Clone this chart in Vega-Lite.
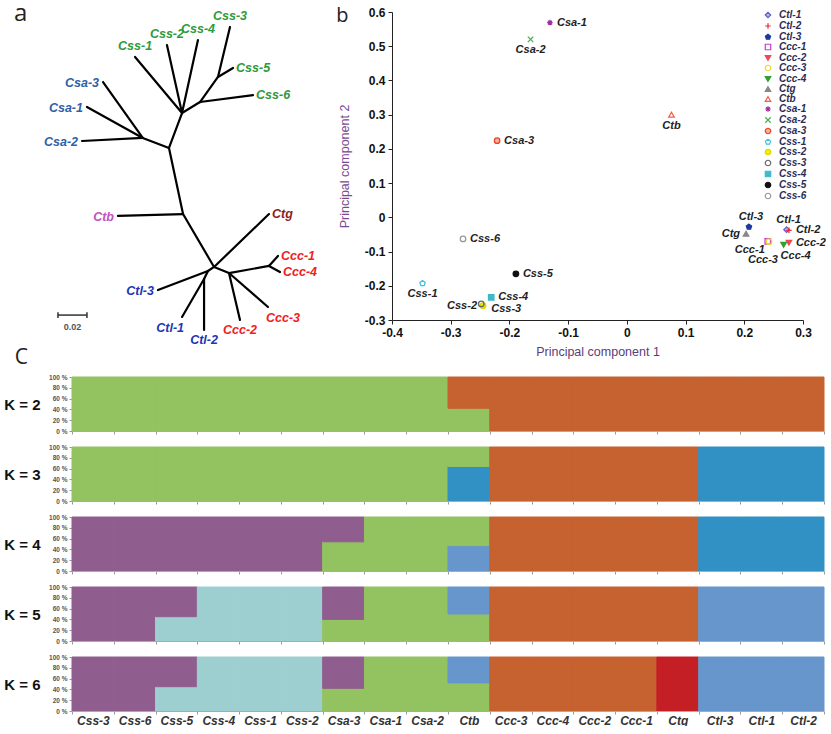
{
  "$schema": "https://vega.github.io/schema/vega-lite/v6.json",
  "padding": {"left": 3, "top": 1, "right": 0, "bottom": 0},
  "background": "white",
  "config": {"view": {"stroke": null}, "font": "Liberation Sans", "axis": {"grid": false}},
  "datasets": {
    "edges": [
      {"x": 0.0711, "y": 0.0566, "x2": 0.0985, "y2": 0.0952},
      {"x": 0.0600, "y": 0.0738, "x2": 0.0985, "y2": 0.0952},
      {"x": 0.0566, "y": 0.0973, "x2": 0.0985, "y2": 0.0952},
      {"x": 0.0985, "y": 0.0952, "x2": 0.1166, "y2": 0.1021},
      {"x": 0.1166, "y": 0.1021, "x2": 0.1256, "y2": 0.0780},
      {"x": 0.0932, "y": 0.0393, "x2": 0.1256, "y2": 0.0780},
      {"x": 0.1152, "y": 0.0311, "x2": 0.1256, "y2": 0.0780},
      {"x": 0.1366, "y": 0.0276, "x2": 0.1256, "y2": 0.0780},
      {"x": 0.1256, "y": 0.0780, "x2": 0.1380, "y2": 0.0704},
      {"x": 0.1746, "y": 0.0656, "x2": 0.1380, "y2": 0.0704},
      {"x": 0.1380, "y": 0.0704, "x2": 0.1504, "y2": 0.0531},
      {"x": 0.1587, "y": 0.0186, "x2": 0.1504, "y2": 0.0531},
      {"x": 0.1608, "y": 0.0469, "x2": 0.1504, "y2": 0.0531},
      {"x": 0.1166, "y": 0.1021, "x2": 0.1263, "y2": 0.1477},
      {"x": 0.0814, "y": 0.1490, "x2": 0.1263, "y2": 0.1477},
      {"x": 0.1263, "y": 0.1477, "x2": 0.1477, "y2": 0.1842},
      {"x": 0.1856, "y": 0.1477, "x2": 0.1477, "y2": 0.1842},
      {"x": 0.1477, "y": 0.1842, "x2": 0.1435, "y2": 0.1870},
      {"x": 0.1090, "y": 0.2001, "x2": 0.1435, "y2": 0.1870},
      {"x": 0.1435, "y": 0.1870, "x2": 0.1408, "y2": 0.1925},
      {"x": 0.1256, "y": 0.2187, "x2": 0.1408, "y2": 0.1925},
      {"x": 0.1408, "y": 0.2277, "x2": 0.1408, "y2": 0.1925},
      {"x": 0.1477, "y": 0.1842, "x2": 0.1580, "y2": 0.1884},
      {"x": 0.1656, "y": 0.2208, "x2": 0.1580, "y2": 0.1884},
      {"x": 0.1849, "y": 0.2118, "x2": 0.1580, "y2": 0.1884},
      {"x": 0.1580, "y": 0.1884, "x2": 0.1856, "y2": 0.1835},
      {"x": 0.1918, "y": 0.1766, "x2": 0.1856, "y2": 0.1835},
      {"x": 0.1932, "y": 0.1877, "x2": 0.1856, "y2": 0.1835}
    ],
    "leaves": [
      {"name": "Csa-3", "clade": "Csa", "x": 0.0711, "y": 0.0566},
      {"name": "Csa-1", "clade": "Csa", "x": 0.0600, "y": 0.0738},
      {"name": "Csa-2", "clade": "Csa", "x": 0.0566, "y": 0.0973},
      {"name": "Css-1", "clade": "Css", "x": 0.0932, "y": 0.0393},
      {"name": "Css-2", "clade": "Css", "x": 0.1152, "y": 0.0311},
      {"name": "Css-4", "clade": "Css", "x": 0.1366, "y": 0.0276},
      {"name": "Css-3", "clade": "Css", "x": 0.1587, "y": 0.0186},
      {"name": "Css-5", "clade": "Css", "x": 0.1608, "y": 0.0469},
      {"name": "Css-6", "clade": "Css", "x": 0.1746, "y": 0.0656},
      {"name": "Ctb", "clade": "Ctb", "x": 0.0814, "y": 0.1490},
      {"name": "Ctg", "clade": "Ctg", "x": 0.1856, "y": 0.1477},
      {"name": "Ctl-3", "clade": "Ctl", "x": 0.1090, "y": 0.2001},
      {"name": "Ctl-1", "clade": "Ctl", "x": 0.1256, "y": 0.2187},
      {"name": "Ctl-2", "clade": "Ctl", "x": 0.1408, "y": 0.2277},
      {"name": "Ccc-2", "clade": "Ccc", "x": 0.1656, "y": 0.2208},
      {"name": "Ccc-3", "clade": "Ccc", "x": 0.1849, "y": 0.2118},
      {"name": "Ccc-1", "clade": "Ccc", "x": 0.1918, "y": 0.1766},
      {"name": "Ccc-4", "clade": "Ccc", "x": 0.1932, "y": 0.1877}
    ],
    "scalebar": [
      {"x": 0.040, "x2": 0.060, "y": 0.2174, "y2": 0.2174, "label": "0.02"},
      {"x": 0.040, "x2": 0.040, "y": 0.2154, "y2": 0.2194},
      {"x": 0.060, "x2": 0.060, "y": 0.2154, "y2": 0.2194}
    ],
    "pca": [
      {"sample": "Ctl-1", "pc1": 0.272, "pc2": -0.036},
      {"sample": "Ctl-2", "pc1": 0.276, "pc2": -0.038},
      {"sample": "Ctl-3", "pc1": 0.208, "pc2": -0.028},
      {"sample": "Ccc-1", "pc1": 0.240, "pc2": -0.070},
      {"sample": "Ccc-2", "pc1": 0.276, "pc2": -0.074},
      {"sample": "Ccc-3", "pc1": 0.242, "pc2": -0.071},
      {"sample": "Ccc-4", "pc1": 0.267, "pc2": -0.080},
      {"sample": "Ctg", "pc1": 0.203, "pc2": -0.048},
      {"sample": "Ctb", "pc1": 0.076, "pc2": 0.300},
      {"sample": "Csa-1", "pc1": -0.131, "pc2": 0.569},
      {"sample": "Csa-2", "pc1": -0.164, "pc2": 0.520},
      {"sample": "Csa-3", "pc1": -0.221, "pc2": 0.224},
      {"sample": "Css-1", "pc1": -0.348, "pc2": -0.193},
      {"sample": "Css-2", "pc1": -0.245, "pc2": -0.258},
      {"sample": "Css-3", "pc1": -0.248, "pc2": -0.253},
      {"sample": "Css-4", "pc1": -0.231, "pc2": -0.234},
      {"sample": "Css-5", "pc1": -0.189, "pc2": -0.165},
      {"sample": "Css-6", "pc1": -0.279, "pc2": -0.063}
    ],
    "admix": [
      {"K": 2, "sample": "Css-3", "cluster": "A", "q0": 0, "q1": 1},
      {"K": 2, "sample": "Css-6", "cluster": "A", "q0": 0, "q1": 1},
      {"K": 2, "sample": "Css-5", "cluster": "A", "q0": 0, "q1": 1},
      {"K": 2, "sample": "Css-4", "cluster": "A", "q0": 0, "q1": 1},
      {"K": 2, "sample": "Css-1", "cluster": "A", "q0": 0, "q1": 1},
      {"K": 2, "sample": "Css-2", "cluster": "A", "q0": 0, "q1": 1},
      {"K": 2, "sample": "Csa-3", "cluster": "A", "q0": 0, "q1": 1},
      {"K": 2, "sample": "Csa-1", "cluster": "A", "q0": 0, "q1": 1},
      {"K": 2, "sample": "Csa-2", "cluster": "A", "q0": 0, "q1": 1},
      {"K": 2, "sample": "Ctb", "cluster": "A", "q0": 0, "q1": 0.42},
      {"K": 2, "sample": "Ctb", "cluster": "B", "q0": 0.42, "q1": 1},
      {"K": 2, "sample": "Ccc-3", "cluster": "B", "q0": 0, "q1": 1},
      {"K": 2, "sample": "Ccc-4", "cluster": "B", "q0": 0, "q1": 1},
      {"K": 2, "sample": "Ccc-2", "cluster": "B", "q0": 0, "q1": 1},
      {"K": 2, "sample": "Ccc-1", "cluster": "B", "q0": 0, "q1": 1},
      {"K": 2, "sample": "Ctg", "cluster": "B", "q0": 0, "q1": 1},
      {"K": 2, "sample": "Ctl-3", "cluster": "B", "q0": 0, "q1": 1},
      {"K": 2, "sample": "Ctl-1", "cluster": "B", "q0": 0, "q1": 1},
      {"K": 2, "sample": "Ctl-2", "cluster": "B", "q0": 0, "q1": 1},
      {"K": 3, "sample": "Css-3", "cluster": "A", "q0": 0, "q1": 1},
      {"K": 3, "sample": "Css-6", "cluster": "A", "q0": 0, "q1": 1},
      {"K": 3, "sample": "Css-5", "cluster": "A", "q0": 0, "q1": 1},
      {"K": 3, "sample": "Css-4", "cluster": "A", "q0": 0, "q1": 1},
      {"K": 3, "sample": "Css-1", "cluster": "A", "q0": 0, "q1": 1},
      {"K": 3, "sample": "Css-2", "cluster": "A", "q0": 0, "q1": 1},
      {"K": 3, "sample": "Csa-3", "cluster": "A", "q0": 0, "q1": 1},
      {"K": 3, "sample": "Csa-1", "cluster": "A", "q0": 0, "q1": 1},
      {"K": 3, "sample": "Csa-2", "cluster": "A", "q0": 0, "q1": 1},
      {"K": 3, "sample": "Ctb", "cluster": "C", "q0": 0, "q1": 0.64},
      {"K": 3, "sample": "Ctb", "cluster": "A", "q0": 0.64, "q1": 1},
      {"K": 3, "sample": "Ccc-3", "cluster": "B", "q0": 0, "q1": 1},
      {"K": 3, "sample": "Ccc-4", "cluster": "B", "q0": 0, "q1": 1},
      {"K": 3, "sample": "Ccc-2", "cluster": "B", "q0": 0, "q1": 1},
      {"K": 3, "sample": "Ccc-1", "cluster": "B", "q0": 0, "q1": 1},
      {"K": 3, "sample": "Ctg", "cluster": "B", "q0": 0, "q1": 1},
      {"K": 3, "sample": "Ctl-3", "cluster": "C", "q0": 0, "q1": 1},
      {"K": 3, "sample": "Ctl-1", "cluster": "C", "q0": 0, "q1": 1},
      {"K": 3, "sample": "Ctl-2", "cluster": "C", "q0": 0, "q1": 1},
      {"K": 4, "sample": "Css-3", "cluster": "E", "q0": 0, "q1": 1},
      {"K": 4, "sample": "Css-6", "cluster": "E", "q0": 0, "q1": 1},
      {"K": 4, "sample": "Css-5", "cluster": "E", "q0": 0, "q1": 1},
      {"K": 4, "sample": "Css-4", "cluster": "E", "q0": 0, "q1": 1},
      {"K": 4, "sample": "Css-1", "cluster": "E", "q0": 0, "q1": 1},
      {"K": 4, "sample": "Css-2", "cluster": "E", "q0": 0, "q1": 1},
      {"K": 4, "sample": "Csa-3", "cluster": "A", "q0": 0, "q1": 0.54},
      {"K": 4, "sample": "Csa-3", "cluster": "E", "q0": 0.54, "q1": 1},
      {"K": 4, "sample": "Csa-1", "cluster": "A", "q0": 0, "q1": 1},
      {"K": 4, "sample": "Csa-2", "cluster": "A", "q0": 0, "q1": 1},
      {"K": 4, "sample": "Ctb", "cluster": "D", "q0": 0, "q1": 0.47},
      {"K": 4, "sample": "Ctb", "cluster": "A", "q0": 0.47, "q1": 1},
      {"K": 4, "sample": "Ccc-3", "cluster": "B", "q0": 0, "q1": 1},
      {"K": 4, "sample": "Ccc-4", "cluster": "B", "q0": 0, "q1": 1},
      {"K": 4, "sample": "Ccc-2", "cluster": "B", "q0": 0, "q1": 1},
      {"K": 4, "sample": "Ccc-1", "cluster": "B", "q0": 0, "q1": 1},
      {"K": 4, "sample": "Ctg", "cluster": "B", "q0": 0, "q1": 1},
      {"K": 4, "sample": "Ctl-3", "cluster": "C", "q0": 0, "q1": 1},
      {"K": 4, "sample": "Ctl-1", "cluster": "C", "q0": 0, "q1": 1},
      {"K": 4, "sample": "Ctl-2", "cluster": "C", "q0": 0, "q1": 1},
      {"K": 5, "sample": "Css-3", "cluster": "E", "q0": 0, "q1": 1},
      {"K": 5, "sample": "Css-6", "cluster": "E", "q0": 0, "q1": 1},
      {"K": 5, "sample": "Css-5", "cluster": "F", "q0": 0, "q1": 0.45},
      {"K": 5, "sample": "Css-5", "cluster": "E", "q0": 0.45, "q1": 1},
      {"K": 5, "sample": "Css-4", "cluster": "F", "q0": 0, "q1": 1},
      {"K": 5, "sample": "Css-1", "cluster": "F", "q0": 0, "q1": 1},
      {"K": 5, "sample": "Css-2", "cluster": "F", "q0": 0, "q1": 1},
      {"K": 5, "sample": "Csa-3", "cluster": "A", "q0": 0, "q1": 0.4},
      {"K": 5, "sample": "Csa-3", "cluster": "E", "q0": 0.4, "q1": 1},
      {"K": 5, "sample": "Csa-1", "cluster": "A", "q0": 0, "q1": 1},
      {"K": 5, "sample": "Csa-2", "cluster": "A", "q0": 0, "q1": 1},
      {"K": 5, "sample": "Ctb", "cluster": "A", "q0": 0, "q1": 0.5},
      {"K": 5, "sample": "Ctb", "cluster": "D", "q0": 0.5, "q1": 1},
      {"K": 5, "sample": "Ccc-3", "cluster": "B", "q0": 0, "q1": 1},
      {"K": 5, "sample": "Ccc-4", "cluster": "B", "q0": 0, "q1": 1},
      {"K": 5, "sample": "Ccc-2", "cluster": "B", "q0": 0, "q1": 1},
      {"K": 5, "sample": "Ccc-1", "cluster": "B", "q0": 0, "q1": 1},
      {"K": 5, "sample": "Ctg", "cluster": "B", "q0": 0, "q1": 1},
      {"K": 5, "sample": "Ctl-3", "cluster": "D", "q0": 0, "q1": 1},
      {"K": 5, "sample": "Ctl-1", "cluster": "D", "q0": 0, "q1": 1},
      {"K": 5, "sample": "Ctl-2", "cluster": "D", "q0": 0, "q1": 1},
      {"K": 6, "sample": "Css-3", "cluster": "E", "q0": 0, "q1": 1},
      {"K": 6, "sample": "Css-6", "cluster": "E", "q0": 0, "q1": 1},
      {"K": 6, "sample": "Css-5", "cluster": "F", "q0": 0, "q1": 0.45},
      {"K": 6, "sample": "Css-5", "cluster": "E", "q0": 0.45, "q1": 1},
      {"K": 6, "sample": "Css-4", "cluster": "F", "q0": 0, "q1": 1},
      {"K": 6, "sample": "Css-1", "cluster": "F", "q0": 0, "q1": 1},
      {"K": 6, "sample": "Css-2", "cluster": "F", "q0": 0, "q1": 1},
      {"K": 6, "sample": "Csa-3", "cluster": "A", "q0": 0, "q1": 0.42},
      {"K": 6, "sample": "Csa-3", "cluster": "E", "q0": 0.42, "q1": 1},
      {"K": 6, "sample": "Csa-1", "cluster": "A", "q0": 0, "q1": 1},
      {"K": 6, "sample": "Csa-2", "cluster": "A", "q0": 0, "q1": 1},
      {"K": 6, "sample": "Ctb", "cluster": "A", "q0": 0, "q1": 0.52},
      {"K": 6, "sample": "Ctb", "cluster": "D", "q0": 0.52, "q1": 1},
      {"K": 6, "sample": "Ccc-3", "cluster": "B", "q0": 0, "q1": 1},
      {"K": 6, "sample": "Ccc-4", "cluster": "B", "q0": 0, "q1": 1},
      {"K": 6, "sample": "Ccc-2", "cluster": "B", "q0": 0, "q1": 1},
      {"K": 6, "sample": "Ccc-1", "cluster": "B", "q0": 0, "q1": 1},
      {"K": 6, "sample": "Ctg", "cluster": "G", "q0": 0, "q1": 1},
      {"K": 6, "sample": "Ctl-3", "cluster": "D", "q0": 0, "q1": 1},
      {"K": 6, "sample": "Ctl-1", "cluster": "D", "q0": 0, "q1": 1},
      {"K": 6, "sample": "Ctl-2", "cluster": "D", "q0": 0, "q1": 1}
    ]
  },
  "columns": 1,
  "align": "none",
  "spacing": -11,
  "resolve": {"scale": {"color": "independent", "stroke": "independent", "fill": "independent", "shape": "independent"}, "legend": {"color": "independent", "stroke": "independent", "fill": "independent", "shape": "independent"}},
  "concat": [
    {
      "spacing": 14,
      "resolve": {"scale": {"color": "independent", "stroke": "independent", "fill": "independent", "shape": "independent"}, "legend": {"color": "independent", "stroke": "independent", "fill": "independent", "shape": "independent"}},
      "hconcat": [
        {
          "width": 250,
          "height": 330,
          "title": {"text": "a", "anchor": "start", "frame": "group", "fontSize": 24, "font": "Open Sans", "fontWeight": "normal", "baseline": "alphabetic", "offset": -35, "dx": -58, "color": "#222"},
          "layer": [
            {
              "data": {"name": "edges"},
              "mark": {"type": "rule", "strokeWidth": 2.2, "color": "#000", "strokeCap": "round"},
              "encoding": {
                "x": {"field": "x", "type": "quantitative", "scale": {"domain": [0.04968, 0.22218], "nice": false, "zero": false}, "axis": null},
                "y": {"field": "y", "type": "quantitative", "scale": {"domain": [0.00828, 0.23598], "nice": false, "zero": false, "reverse": true}, "axis": null},
                "x2": {"field": "x2"},
                "y2": {"field": "y2"}
              }
            },
            {
              "data": {"name": "scalebar"},
              "mark": {"type": "rule", "strokeWidth": 1.5, "color": "#333"},
              "encoding": {
                "x": {"field": "x", "type": "quantitative", "axis": null},
                "y": {"field": "y", "type": "quantitative", "axis": null},
                "x2": {"field": "x2"},
                "y2": {"field": "y2"}
              }
            },
            {
              "data": {"name": "scalebar"},
              "transform": [{"filter": "isValid(datum.label)"}],
              "mark": {"type": "text", "dx": 14.5, "dy": 12, "align": "center", "fontSize": 9, "fontWeight": "bold", "color": "#555"},
              "encoding": {
                "x": {"field": "x", "type": "quantitative", "axis": null},
                "y": {"field": "y", "type": "quantitative", "axis": null},
                "text": {"field": "label"}
              }
            },
            {
              "data": {"name": "leaves"},
              "transform": [{"filter": {"field": "name", "oneOf": ["Csa-3", "Csa-1", "Csa-2", "Ctb", "Ctl-3"]}}],
              "mark": {"type": "text", "align": "right", "baseline": "middle", "dx": -4, "dy": 1, "fontSize": 12.5, "fontStyle": "italic", "fontWeight": "bold"},
              "encoding": {
                "x": {"field": "x", "type": "quantitative", "axis": null},
                "y": {"field": "y", "type": "quantitative", "axis": null},
                "text": {"field": "name"},
                "color": {"field": "clade", "type": "nominal", "legend": null, "scale": {"domain": ["Css", "Csa", "Ctl", "Ccc", "Ctb", "Ctg"], "range": ["#2f9a3a", "#2f5fa8", "#1f35b5", "#ee1d23", "#c251c1", "#8e1c1c"]}}
              }
            },
            {
              "data": {"name": "leaves"},
              "transform": [{"filter": {"field": "name", "oneOf": ["Css-1", "Css-2", "Css-4", "Css-3"]}}],
              "mark": {"type": "text", "align": "center", "baseline": "middle", "dy": -11, "fontSize": 12.5, "fontStyle": "italic", "fontWeight": "bold"},
              "encoding": {
                "x": {"field": "x", "type": "quantitative", "axis": null},
                "y": {"field": "y", "type": "quantitative", "axis": null},
                "text": {"field": "name"},
                "color": {"field": "clade", "type": "nominal", "legend": null}
              }
            },
            {
              "data": {"name": "leaves"},
              "transform": [{"filter": {"field": "name", "oneOf": ["Css-5", "Css-6", "Ctg", "Ccc-1", "Ccc-4"]}}],
              "mark": {"type": "text", "align": "left", "baseline": "middle", "dx": 3, "fontSize": 12.5, "fontStyle": "italic", "fontWeight": "bold"},
              "encoding": {
                "x": {"field": "x", "type": "quantitative", "axis": null},
                "y": {"field": "y", "type": "quantitative", "axis": null},
                "text": {"field": "name"},
                "color": {"field": "clade", "type": "nominal", "legend": null}
              }
            },
            {
              "data": {"name": "leaves"},
              "transform": [{"filter": {"field": "name", "oneOf": ["Ccc-2", "Ctl-2"]}}],
              "mark": {"type": "text", "align": "center", "baseline": "middle", "dy": 10, "fontSize": 12.5, "fontStyle": "italic", "fontWeight": "bold"},
              "encoding": {
                "x": {"field": "x", "type": "quantitative", "axis": null},
                "y": {"field": "y", "type": "quantitative", "axis": null},
                "text": {"field": "name"},
                "color": {"field": "clade", "type": "nominal", "legend": null}
              }
            },
            {
              "data": {"name": "leaves"},
              "transform": [{"filter": {"field": "name", "oneOf": ["Ccc-3"]}}],
              "mark": {"type": "text", "align": "left", "baseline": "middle", "dx": -2, "dy": 11, "fontSize": 12.5, "fontStyle": "italic", "fontWeight": "bold"},
              "encoding": {
                "x": {"field": "x", "type": "quantitative", "axis": null},
                "y": {"field": "y", "type": "quantitative", "axis": null},
                "text": {"field": "name"},
                "color": {"field": "clade", "type": "nominal", "legend": null}
              }
            },
            {
              "data": {"name": "leaves"},
              "transform": [{"filter": {"field": "name", "oneOf": ["Ctl-1"]}}],
              "mark": {"type": "text", "align": "right", "baseline": "middle", "dx": 2, "dy": 11, "fontSize": 12.5, "fontStyle": "italic", "fontWeight": "bold"},
              "encoding": {
                "x": {"field": "x", "type": "quantitative", "axis": null},
                "y": {"field": "y", "type": "quantitative", "axis": null},
                "text": {"field": "name"},
                "color": {"field": "clade", "type": "nominal", "legend": null}
              }
            }
          ]
        },
        {
          "width": 411,
          "height": 308,
          "title": {"text": "b", "anchor": "start", "frame": "bounds", "fontSize": 20, "font": "Open Sans", "fontWeight": "normal", "baseline": "alphabetic", "offset": -36, "dx": -2, "color": "#222"},
          "data": {"name": "pca"},
          "encoding": {
            "x": {"field": "pc1", "type": "quantitative", "scale": {"domain": [-0.4, 0.3], "nice": false, "zero": false},
                  "axis": {"values": [-0.4, -0.3, -0.2, -0.1, 0, 0.1, 0.2, 0.3], "format": "~g", "labelExpr": "replace(datum.label, '−', '-')", "title": "Principal component 1", "labelFontWeight": "bold", "labelFontSize": 12, "labelColor": "#111", "tickSize": 4, "labelPadding": 3, "domainColor": "#222", "tickColor": "#222", "titleFontWeight": "normal", "titleFontSize": 12.5, "titleColor": "#5b3c7e", "titlePadding": 7, "labelFlush": false}},
            "y": {"field": "pc2", "type": "quantitative", "scale": {"domain": [-0.3, 0.6], "nice": false, "zero": false},
                  "axis": {"values": [-0.3, -0.2, -0.1, 0, 0.1, 0.2, 0.3, 0.4, 0.5, 0.6], "format": "~g", "labelExpr": "replace(datum.label, '−', '-')", "title": "Principal component 2", "labelFontWeight": "bold", "labelFontSize": 12, "labelColor": "#111", "tickSize": 4, "labelPadding": 3, "domainColor": "#222", "tickColor": "#222", "titleFontWeight": "normal", "titleFontSize": 12.5, "titleColor": "#7a4a92", "titlePadding": 13, "labelFlush": false}}
          },
          "layer": [
            {
              "mark": {"type": "point", "size": 30, "strokeWidth": 1.3, "opacity": 1},
              "encoding": {
                "shape": {"field": "sample", "type": "nominal",
                  "scale": {"domain": ["Ctl-1", "Ctl-2", "Ctl-3", "Ccc-1", "Ccc-2", "Ccc-3", "Ccc-4", "Ctg", "Ctb", "Csa-1", "Csa-2", "Csa-3", "Css-1", "Css-2", "Css-3", "Css-4", "Css-5", "Css-6"],
                            "range": ["diamond", "M-1,0L1,0M0,-1L0,1", "M0,-1L0.95,-0.31L0.59,0.81L-0.59,0.81L-0.95,-0.31Z", "square", "triangle-down", "circle", "triangle-down", "triangle-up", "triangle-up", "M-1,0L1,0M0,-1L0,1M-0.7,-0.7L0.7,0.7M-0.7,0.7L0.7,-0.7", "M-1,-1L1,1M-1,1L1,-1", "circle", "M0,-1L0.95,-0.31L0.59,0.81L-0.59,0.81L-0.95,-0.31Z", "circle", "circle", "square", "circle", "circle"]},
                  "legend": {"title": null, "orient": "none", "legendX": 371, "legendY": -2, "padding": 0, "labelFontSize": 10, "labelFont": "Liberation Sans", "labelFontStyle": "italic", "labelFontWeight": "bold", "labelColor": "#2b2b55", "rowPadding": -1.5, "symbolSize": 30, "symbolStrokeWidth": 1.2, "labelOffset": 6}},
                "stroke": {"field": "sample", "type": "nominal",
                  "scale": {"domain": ["Ctl-1", "Ctl-2", "Ctl-3", "Ccc-1", "Ccc-2", "Ccc-3", "Ccc-4", "Ctg", "Ctb", "Csa-1", "Csa-2", "Csa-3", "Css-1", "Css-2", "Css-3", "Css-4", "Css-5", "Css-6"],
                            "range": ["#6060c0", "#e8283c", "#1c3a9c", "#c83cc8", "#f04850", "#e8d830", "#2ea02e", "#888888", "#f06048", "#a02ca0", "#4caf50", "#e8442c", "#40c0e0", "#d8d800", "#666666", "#40b8cc", "#111111", "#999999"]},
                  "legend": {"title": null, "orient": "none", "legendX": 371, "legendY": -2, "padding": 0, "labelFontSize": 10, "labelFont": "Liberation Sans", "labelFontStyle": "italic", "labelFontWeight": "bold", "labelColor": "#2b2b55", "rowPadding": -1.5, "symbolSize": 30, "symbolStrokeWidth": 1.2, "labelOffset": 6}},
                "fill": {"field": "sample", "type": "nominal",
                  "scale": {"domain": ["Ctl-1", "Ctl-2", "Ctl-3", "Ccc-1", "Ccc-2", "Ccc-3", "Ccc-4", "Ctg", "Ctb", "Csa-1", "Csa-2", "Csa-3", "Css-1", "Css-2", "Css-3", "Css-4", "Css-5", "Css-6"],
                            "range": ["#b8b8ec", "transparent", "#1c3a9c", "transparent", "#f04850", "transparent", "#2ea02e", "#888888", "transparent", "transparent", "transparent", "#f8b090", "transparent", "#f0f000", "transparent", "#40b8cc", "#111111", "transparent"]},
                  "legend": {"title": null, "orient": "none", "legendX": 371, "legendY": -2, "padding": 0, "labelFontSize": 10, "labelFont": "Liberation Sans", "labelFontStyle": "italic", "labelFontWeight": "bold", "labelColor": "#2b2b55", "rowPadding": -1.5, "symbolSize": 30, "symbolStrokeWidth": 1.2, "labelOffset": 6}}
              }
            },
            {
              "transform": [{"filter": {"field": "sample", "oneOf": ["Csa-1", "Csa-3", "Css-6", "Css-5", "Ctl-2", "Ccc-2", "Css-4"]}}],
              "mark": {"type": "text", "align": "left", "baseline": "middle", "dx": 7, "fontSize": 11, "fontStyle": "italic", "fontWeight": "bold", "color": "#222"},
              "encoding": {"text": {"field": "sample"}}
            },
            {
              "transform": [{"filter": {"field": "sample", "oneOf": ["Csa-2", "Ctb", "Css-1"]}}],
              "mark": {"type": "text", "align": "center", "baseline": "middle", "dy": 11, "fontSize": 11, "fontStyle": "italic", "fontWeight": "bold", "color": "#222"},
              "encoding": {"text": {"field": "sample"}}
            },
            {
              "transform": [{"filter": {"field": "sample", "oneOf": ["Css-3"]}}],
              "mark": {"type": "text", "align": "left", "baseline": "middle", "dx": 10, "dy": 5, "fontSize": 11, "fontStyle": "italic", "fontWeight": "bold", "color": "#222"},
              "encoding": {"text": {"field": "sample"}}
            },
            {
              "transform": [{"filter": {"field": "sample", "oneOf": ["Ctg", "Css-2"]}}],
              "mark": {"type": "text", "align": "right", "baseline": "middle", "dx": -6, "fontSize": 11, "fontStyle": "italic", "fontWeight": "bold", "color": "#222"},
              "encoding": {"text": {"field": "sample"}}
            },
            {
              "transform": [{"filter": {"field": "sample", "oneOf": ["Ctl-3", "Ctl-1"]}}],
              "mark": {"type": "text", "align": "center", "baseline": "middle", "dy": -10, "dx": 2, "fontSize": 11, "fontStyle": "italic", "fontWeight": "bold", "color": "#222"},
              "encoding": {"text": {"field": "sample"}}
            },
            {
              "transform": [{"filter": {"field": "sample", "oneOf": ["Ccc-1"]}}],
              "mark": {"type": "text", "align": "right", "baseline": "middle", "dx": -3, "dy": 9, "fontSize": 11, "fontStyle": "italic", "fontWeight": "bold", "color": "#222"},
              "encoding": {"text": {"field": "sample"}}
            },
            {
              "transform": [{"filter": {"field": "sample", "oneOf": ["Ccc-3"]}}],
              "mark": {"type": "text", "align": "center", "baseline": "middle", "dx": -6, "dy": 18, "fontSize": 11, "fontStyle": "italic", "fontWeight": "bold", "color": "#222"},
              "encoding": {"text": {"field": "sample"}}
            },
            {
              "transform": [{"filter": {"field": "sample", "oneOf": ["Ccc-4"]}}],
              "mark": {"type": "text", "align": "left", "baseline": "middle", "dx": -3, "dy": 11, "fontSize": 11, "fontStyle": "italic", "fontWeight": "bold", "color": "#222"},
              "encoding": {"text": {"field": "sample"}}
            }
          ]
        }
      ]
    },
    {
      "spacing": 9,
      "vconcat": [
        {
          "width": 752, "height": 54,
          "title": {"text": "C", "anchor": "start", "frame": "bounds", "fontSize": 21, "font": "Open Sans", "fontWeight": "normal", "baseline": "alphabetic", "offset": -11, "dx": 11, "color": "#222"},
          "data": {"name": "admix"},
          "transform": [{"filter": "datum.K == 2"}],
          "mark": {"type": "rect", "strokeWidth": 1},
          "encoding": {
            "x": {"field": "sample", "type": "nominal", "sort": ["Css-3", "Css-6", "Css-5", "Css-4", "Css-1", "Css-2", "Csa-3", "Csa-1", "Csa-2", "Ctb", "Ccc-3", "Ccc-4", "Ccc-2", "Ccc-1", "Ctg", "Ctl-3", "Ctl-1", "Ctl-2"], "scale": {"paddingInner": 0, "paddingOuter": 0},
                  "axis": {"title": null, "labels": false, "tickBand": "extent", "tickSize": 3, "domainColor": "#aaa", "tickColor": "#999"}},
            "y": {"field": "q0", "type": "quantitative", "scale": {"domain": [0, 1], "nice": false},
                  "axis": {"values": [0, 0.2, 0.4, 0.6, 0.8, 1], "labelExpr": "round(datum.value * 100) + ' %'", "labelFontSize": 6.5, "labelFontWeight": "bold", "labelColor": "#555", "tickSize": 3, "labelPadding": 2, "tickColor": "#999", "domainColor": "#aaa", "title": "K = 2", "titleAngle": 0, "titleX": -32, "titleY": 27, "titleAlign": "right", "titleBaseline": "middle", "titleFontSize": 15, "titleFontWeight": "bold", "titleColor": "#111"}},
            "y2": {"field": "q1"},
            "color": {"field": "cluster", "type": "nominal", "legend": null, "scale": {"domain": ["A", "B", "C", "D", "E", "F", "G"], "range": ["#93C260", "#C5622F", "#3190C4", "#6696CB", "#8F5E8E", "#9ECFD0", "#C31F24"]}},
            "stroke": {"field": "cluster", "type": "nominal", "legend": null, "scale": {"domain": ["A", "B", "C", "D", "E", "F", "G"], "range": ["#93C260", "#C5622F", "#3190C4", "#6696CB", "#8F5E8E", "#9ECFD0", "#C31F24"]}}
          }
        },
        {
          "width": 752, "height": 54,
          "data": {"name": "admix"},
          "transform": [{"filter": "datum.K == 3"}],
          "mark": {"type": "rect", "strokeWidth": 1},
          "encoding": {
            "x": {"field": "sample", "type": "nominal", "sort": ["Css-3", "Css-6", "Css-5", "Css-4", "Css-1", "Css-2", "Csa-3", "Csa-1", "Csa-2", "Ctb", "Ccc-3", "Ccc-4", "Ccc-2", "Ccc-1", "Ctg", "Ctl-3", "Ctl-1", "Ctl-2"], "scale": {"paddingInner": 0, "paddingOuter": 0},
                  "axis": {"title": null, "labels": false, "tickBand": "extent", "tickSize": 3, "domainColor": "#aaa", "tickColor": "#999"}},
            "y": {"field": "q0", "type": "quantitative", "scale": {"domain": [0, 1], "nice": false},
                  "axis": {"values": [0, 0.2, 0.4, 0.6, 0.8, 1], "labelExpr": "round(datum.value * 100) + ' %'", "labelFontSize": 6.5, "labelFontWeight": "bold", "labelColor": "#555", "tickSize": 3, "labelPadding": 2, "tickColor": "#999", "domainColor": "#aaa", "title": "K = 3", "titleAngle": 0, "titleX": -32, "titleY": 27, "titleAlign": "right", "titleBaseline": "middle", "titleFontSize": 15, "titleFontWeight": "bold", "titleColor": "#111"}},
            "y2": {"field": "q1"},
            "color": {"field": "cluster", "type": "nominal", "legend": null},
            "stroke": {"field": "cluster", "type": "nominal", "legend": null}
          }
        },
        {
          "width": 752, "height": 54,
          "data": {"name": "admix"},
          "transform": [{"filter": "datum.K == 4"}],
          "mark": {"type": "rect", "strokeWidth": 1},
          "encoding": {
            "x": {"field": "sample", "type": "nominal", "sort": ["Css-3", "Css-6", "Css-5", "Css-4", "Css-1", "Css-2", "Csa-3", "Csa-1", "Csa-2", "Ctb", "Ccc-3", "Ccc-4", "Ccc-2", "Ccc-1", "Ctg", "Ctl-3", "Ctl-1", "Ctl-2"], "scale": {"paddingInner": 0, "paddingOuter": 0},
                  "axis": {"title": null, "labels": false, "tickBand": "extent", "tickSize": 3, "domainColor": "#aaa", "tickColor": "#999"}},
            "y": {"field": "q0", "type": "quantitative", "scale": {"domain": [0, 1], "nice": false},
                  "axis": {"values": [0, 0.2, 0.4, 0.6, 0.8, 1], "labelExpr": "round(datum.value * 100) + ' %'", "labelFontSize": 6.5, "labelFontWeight": "bold", "labelColor": "#555", "tickSize": 3, "labelPadding": 2, "tickColor": "#999", "domainColor": "#aaa", "title": "K = 4", "titleAngle": 0, "titleX": -32, "titleY": 27, "titleAlign": "right", "titleBaseline": "middle", "titleFontSize": 15, "titleFontWeight": "bold", "titleColor": "#111"}},
            "y2": {"field": "q1"},
            "color": {"field": "cluster", "type": "nominal", "legend": null},
            "stroke": {"field": "cluster", "type": "nominal", "legend": null}
          }
        },
        {
          "width": 752, "height": 54,
          "data": {"name": "admix"},
          "transform": [{"filter": "datum.K == 5"}],
          "mark": {"type": "rect", "strokeWidth": 1},
          "encoding": {
            "x": {"field": "sample", "type": "nominal", "sort": ["Css-3", "Css-6", "Css-5", "Css-4", "Css-1", "Css-2", "Csa-3", "Csa-1", "Csa-2", "Ctb", "Ccc-3", "Ccc-4", "Ccc-2", "Ccc-1", "Ctg", "Ctl-3", "Ctl-1", "Ctl-2"], "scale": {"paddingInner": 0, "paddingOuter": 0},
                  "axis": {"title": null, "labels": false, "tickBand": "extent", "tickSize": 3, "domainColor": "#aaa", "tickColor": "#999"}},
            "y": {"field": "q0", "type": "quantitative", "scale": {"domain": [0, 1], "nice": false},
                  "axis": {"values": [0, 0.2, 0.4, 0.6, 0.8, 1], "labelExpr": "round(datum.value * 100) + ' %'", "labelFontSize": 6.5, "labelFontWeight": "bold", "labelColor": "#555", "tickSize": 3, "labelPadding": 2, "tickColor": "#999", "domainColor": "#aaa", "title": "K = 5", "titleAngle": 0, "titleX": -32, "titleY": 27, "titleAlign": "right", "titleBaseline": "middle", "titleFontSize": 15, "titleFontWeight": "bold", "titleColor": "#111"}},
            "y2": {"field": "q1"},
            "color": {"field": "cluster", "type": "nominal", "legend": null},
            "stroke": {"field": "cluster", "type": "nominal", "legend": null}
          }
        },
        {
          "width": 752, "height": 54,
          "data": {"name": "admix"},
          "transform": [{"filter": "datum.K == 6"}],
          "mark": {"type": "rect", "strokeWidth": 1},
          "encoding": {
            "x": {"field": "sample", "type": "nominal", "sort": ["Css-3", "Css-6", "Css-5", "Css-4", "Css-1", "Css-2", "Csa-3", "Csa-1", "Csa-2", "Ctb", "Ccc-3", "Ccc-4", "Ccc-2", "Ccc-1", "Ctg", "Ctl-3", "Ctl-1", "Ctl-2"], "scale": {"paddingInner": 0, "paddingOuter": 0},
                  "axis": {"title": null, "labels": true, "labelAngle": 0, "labelOverlap": false, "labelFontSize": 12, "labelFontStyle": "italic", "labelFontWeight": "bold", "labelColor": "#333", "labelPadding": 1, "tickBand": "extent", "tickSize": 3, "domainColor": "#aaa", "tickColor": "#999"}},
            "y": {"field": "q0", "type": "quantitative", "scale": {"domain": [0, 1], "nice": false},
                  "axis": {"values": [0, 0.2, 0.4, 0.6, 0.8, 1], "labelExpr": "round(datum.value * 100) + ' %'", "labelFontSize": 6.5, "labelFontWeight": "bold", "labelColor": "#555", "tickSize": 3, "labelPadding": 2, "tickColor": "#999", "domainColor": "#aaa", "title": "K = 6", "titleAngle": 0, "titleX": -32, "titleY": 27, "titleAlign": "right", "titleBaseline": "middle", "titleFontSize": 15, "titleFontWeight": "bold", "titleColor": "#111"}},
            "y2": {"field": "q1"},
            "color": {"field": "cluster", "type": "nominal", "legend": null},
            "stroke": {"field": "cluster", "type": "nominal", "legend": null}
          }
        }
      ]
    }
  ]
}
